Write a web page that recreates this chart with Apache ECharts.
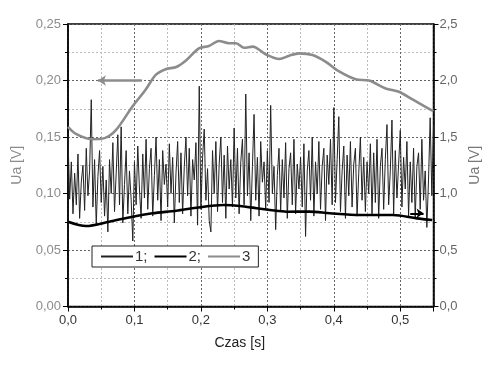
<!DOCTYPE html>
<html><head><meta charset="utf-8">
<script src="https://cdn.jsdelivr.net/npm/echarts@6/dist/echarts.min.js"></script>
<style>html,body{margin:0;padding:0;background:#fff}#c{width:502px;height:367px}</style>
</head><body><div id="c"></div>
<script>
// Series 1: noisy signal (left axis), sampled every 0.0025 s from 0 to 0.55
const s1Step = 0.0025;
const s1Values = [
0.150,0.095,0.128,0.082,0.118,0.090,0.135,0.078,0.110,0.125,0.085,0.140,0.098,0.120,0.183,0.088,0.130,0.072,0.115,0.138,
0.092,0.124,0.080,0.112,0.066,0.130,0.100,0.145,0.084,0.118,0.152,0.090,0.159,0.074,0.108,0.138,0.082,0.120,0.095,0.058,
0.128,0.090,0.142,0.104,0.078,0.135,0.096,0.148,0.086,0.122,0.140,0.080,0.116,0.150,0.094,0.130,0.076,0.138,0.108,0.126,
0.088,0.144,0.100,0.132,0.074,0.118,0.146,0.092,0.136,0.082,0.124,0.150,0.098,0.140,0.080,0.130,0.112,0.145,0.072,0.195,
0.086,0.132,0.157,0.094,0.122,0.076,0.066,0.138,0.100,0.146,0.084,0.126,0.150,0.092,0.134,0.078,0.142,0.104,0.130,0.088,
0.158,0.096,0.140,0.082,0.128,0.148,0.090,0.188,0.098,0.136,0.076,0.124,0.170,0.094,0.132,0.080,0.146,0.110,0.128,0.086,
0.138,0.092,0.178,0.100,0.124,0.068,0.116,0.140,0.084,0.130,0.096,0.145,0.078,0.122,0.136,0.090,0.148,0.082,0.126,0.104,
0.132,0.088,0.144,0.062,0.120,0.138,0.094,0.150,0.080,0.128,0.100,0.146,0.086,0.124,0.140,0.076,0.134,0.108,0.148,0.090,
0.176,0.092,0.130,0.168,0.084,0.120,0.142,0.078,0.134,0.098,0.146,0.088,0.126,0.140,0.080,0.118,0.150,0.094,0.132,0.084,
0.128,0.100,0.144,0.082,0.136,0.092,0.148,0.078,0.124,0.140,0.086,0.130,0.161,0.090,0.120,0.165,0.082,0.138,0.096,0.126,
0.156,0.088,0.132,0.104,0.146,0.080,0.128,0.092,0.140,0.078,0.124,0.136,0.086,0.148,0.094,0.120,0.070,0.112,0.167,0.098,0.160
];
// Series 2: smooth black curve (left axis)
const s2X = [0.000,0.027,0.062,0.097,0.127,0.163,0.193,0.234,0.259,0.284,0.304,0.329,0.364,0.394,0.440,0.489,0.525,0.548];
const s2Y = [0.075,0.0712,0.075,0.0795,0.0825,0.0848,0.0874,0.0898,0.089,0.0869,0.0854,0.0839,0.084,0.0825,0.081,0.081,0.078,0.0765];
// Series 3: grey curve (right axis)
const s3X = [0.000,0.012,0.035,0.055,0.072,0.097,0.117,0.132,0.147,0.163,0.178,0.197,0.212,0.227,0.242,0.253,0.265,0.278,0.298,0.318,0.333,0.348,0.368,0.388,0.408,0.433,0.453,0.478,0.498,0.519,0.546,0.550];
const s3Y = [1.59,1.527,1.48,1.49,1.56,1.77,1.92,2.05,2.10,2.12,2.18,2.285,2.305,2.35,2.33,2.33,2.29,2.30,2.23,2.19,2.22,2.24,2.225,2.165,2.08,2.01,2.00,1.93,1.90,1.83,1.74,1.73];
// Annotation arrows
const arrow3 = [[0.111, 2.0], [0.045, 2.0]];
const arrow2 = [[0.515, 0.0825], [0.535, 0.0825]];
const seriesNames = ['1;', '2;', '3'];

const s1Data = s1Values.map((v, i) => [+(i * s1Step).toFixed(4), v]);
const s2Data = s2X.map((x, i) => [x, s2Y[i]]);
const s3Data = s3X.map((x, i) => [x, s3Y[i]]);

const FONT = 'Liberation Sans, Arial, sans-serif';
const chart = echarts.init(document.getElementById('c'), null, {renderer: 'canvas'});
const comma = d => v => v.toFixed(d).replace('.', ',');
const gridMajor = {show: true, lineStyle: {color: '#666', type: [2, 2], width: 1}};
const gridMinor = {show: true, lineStyle: {color: '#bbb', type: [2, 2], width: 1}};

chart.setOption({
  animation: false,
  backgroundColor: '#fff',
  grid: {left: 68, right: 68.5, top: 24, bottom: 60.5, show: true, borderColor: '#000', borderWidth: 1.5, backgroundColor: 'transparent'},
  legend: {
    left: 92, top: 246, width: 170,
    backgroundColor: '#fff', borderColor: '#222', borderWidth: 1,
    padding: [3, 8, 3, 8], itemGap: 6, itemWidth: 32, itemHeight: 12,
    itemStyle: {opacity: 0},
    textStyle: {fontFamily: FONT, fontSize: 15, color: '#333', padding: [0, 0, 0, -3]},
    data: seriesNames
  },
  xAxis: {
    type: 'value', min: 0, max: 0.55, interval: 0.1,
    name: 'Czas [s]', nameLocation: 'middle', nameGap: 30,
    nameTextStyle: {fontFamily: FONT, fontSize: 14, color: '#222', padding: [0, 22, 0, 0]},
    axisLine: {show: true, onZero: false, lineStyle: {color: '#000', width: 1.5}},
    axisTick: {show: true, length: 5, lineStyle: {color: '#000'}},
    minorTick: {show: true, splitNumber: 2, length: 3, lineStyle: {color: '#000'}},
    splitLine: gridMajor, minorSplitLine: gridMinor,
    axisLabel: {formatter: comma(1), showMaxLabel: false, fontFamily: FONT, fontSize: 13, color: '#333', margin: 7}
  },
  yAxis: [{
    type: 'value', min: 0, max: 0.25, interval: 0.05, position: 'left',
    name: 'Ua [V]', nameLocation: 'middle', nameRotate: 90, nameGap: 44,
    nameTextStyle: {fontFamily: FONT, fontSize: 14, color: '#8c8c8c'},
    axisLine: {show: true, lineStyle: {color: '#000', width: 1.5}},
    axisTick: {show: true, length: 5, lineStyle: {color: '#000'}},
    minorTick: {show: true, splitNumber: 2, length: 3, lineStyle: {color: '#000'}},
    splitLine: gridMajor, minorSplitLine: gridMinor,
    axisLabel: {formatter: comma(2), fontFamily: FONT, fontSize: 13, color: '#8c8c8c', margin: 7}
  }, {
    type: 'value', min: 0, max: 2.5, interval: 0.5, position: 'right',
    name: 'Ua [V]', nameLocation: 'middle', nameRotate: 90, nameGap: 34,
    nameTextStyle: {fontFamily: FONT, fontSize: 14, color: '#777'},
    axisLine: {show: true, lineStyle: {color: '#000', width: 1.5}},
    axisTick: {show: true, length: 5, lineStyle: {color: '#000'}},
    minorTick: {show: true, splitNumber: 2, length: 3, lineStyle: {color: '#000'}},
    splitLine: {show: false},
    axisLabel: {formatter: comma(1), fontFamily: FONT, fontSize: 13, color: '#666', margin: 6}
  }],
  series: [{
    name: seriesNames[0], type: 'line', yAxisIndex: 0, data: s1Data,
    symbol: 'none', lineStyle: {color: '#222', width: 1}, itemStyle: {color: '#222'}, z: 3
  }, {
    name: seriesNames[1], type: 'line', yAxisIndex: 0, data: s2Data, smooth: 0.3,
    symbol: 'none', lineStyle: {color: '#000', width: 2.6}, itemStyle: {color: '#000'}, z: 4,
    markLine: {silent: true, symbol: ['none', 'arrow'], symbolSize: [7, 7], label: {show: false},
      lineStyle: {color: '#000', width: 2, type: 'solid'},
      data: [[{coord: arrow2[0]}, {coord: arrow2[1]}]]}
  }, {
    name: seriesNames[2], type: 'line', yAxisIndex: 1, data: s3Data, smooth: 0.3,
    symbol: 'none', lineStyle: {color: '#8c8c8c', width: 2.6}, itemStyle: {color: '#8c8c8c'}, z: 4,
    markLine: {silent: true, symbol: ['none', 'arrow'], symbolSize: [8, 8], label: {show: false},
      lineStyle: {color: '#8c8c8c', width: 2.5, type: 'solid'},
      data: [[{coord: arrow3[0]}, {coord: arrow3[1]}]]}
  }]
});
</script></body></html>
